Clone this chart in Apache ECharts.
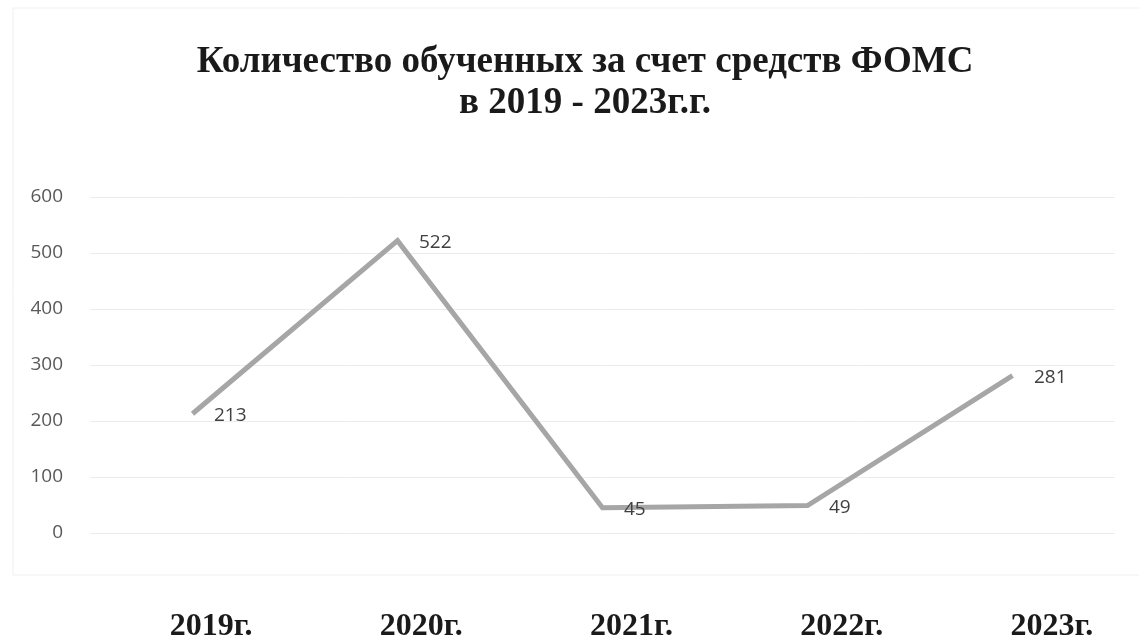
<!DOCTYPE html>
<html>
<head>
<meta charset="utf-8">
<script src="https://cdn.jsdelivr.net/npm/echarts@6/dist/echarts.min.js"></script>
<style>
html,body{margin:0;padding:0;background:#fff;}
#chart{width:1139px;height:642px;}
</style>
</head>
<body>
<div id="chart"></div>
<script>
var titleText = 'Количество обученных за счет средств ФОМС\nв 2019 - 2023г.г.';
var categories = ['2019г.', '2020г.', '2021г.', '2022г.', '2023г.'];
var values = [213, 522, 45, 49, 281];
var yTicks = [0, 100, 200, 300, 400, 500, 600];

var chart = echarts.init(document.getElementById('chart'));
chart.setOption({
  backgroundColor: '#ffffff',
  animation: false,
  title: {
    text: titleText,
    left: 580,
    textAlign: 'center',
    top: 37,
    textStyle: {
      fontFamily: 'Liberation Serif',
      fontWeight: 'bold',
      fontSize: 37,
      lineHeight: 41,
      color: '#1a1a1a'
    }
  },
  graphic: [{
    type: 'rect',
    shape: { x: 13, y: 8, width: 1140, height: 567 },
    style: { fill: 'none', stroke: '#efefef', lineWidth: 1 },
    silent: true,
    z: -1
  }],
  grid: [
    { left: 90, right: 24, top: 197, bottom: 109, outerBoundsMode: 'none' },
    { left: 106, right: -18, top: 626, height: 1, outerBoundsMode: 'none' }
  ],
  xAxis: [
    {
      type: 'category',
      gridIndex: 0,
      data: categories,
      boundaryGap: true,
      axisLine: { show: false },
      axisTick: { show: false },
      axisLabel: { show: false },
      splitLine: { show: false }
    },
    {
      type: 'category',
      gridIndex: 1,
      data: categories,
      boundaryGap: true,
      axisLine: { show: false },
      axisTick: { show: false },
      splitLine: { show: false },
      axisLabel: {
        margin: 0,
        verticalAlign: 'middle',
        fontFamily: 'Liberation Serif',
        fontWeight: 'bold',
        fontSize: 32,
        color: '#1a1a1a'
      }
    }
  ],
  yAxis: [
    {
      type: 'value',
      gridIndex: 0,
      min: yTicks[0],
      max: yTicks[yTicks.length - 1],
      interval: 100,
      axisLine: { show: false },
      axisTick: { show: false },
      splitLine: { lineStyle: { color: '#ececec', width: 1 } },
      axisLabel: {
        margin: 27,
        fontFamily: 'Open Sans',
        fontSize: 19,
        color: '#595959'
      }
    },
    {
      type: 'value',
      gridIndex: 1,
      show: false
    }
  ],
  series: [{
    type: 'line',
    xAxisIndex: 0,
    yAxisIndex: 0,
    data: values,
    symbol: 'circle',
    symbolSize: 1,
    itemStyle: { color: 'rgba(0,0,0,0)' },
    lineStyle: { color: '#a6a6a6', width: 5, join: 'miter' },
    label: {
      show: true,
      position: 'right',
      distance: 21,
      offset: [0, 2],
      fontFamily: 'Open Sans',
      fontSize: 19,
      color: '#404040'
    }
  }]
});
</script>
</body>
</html>
